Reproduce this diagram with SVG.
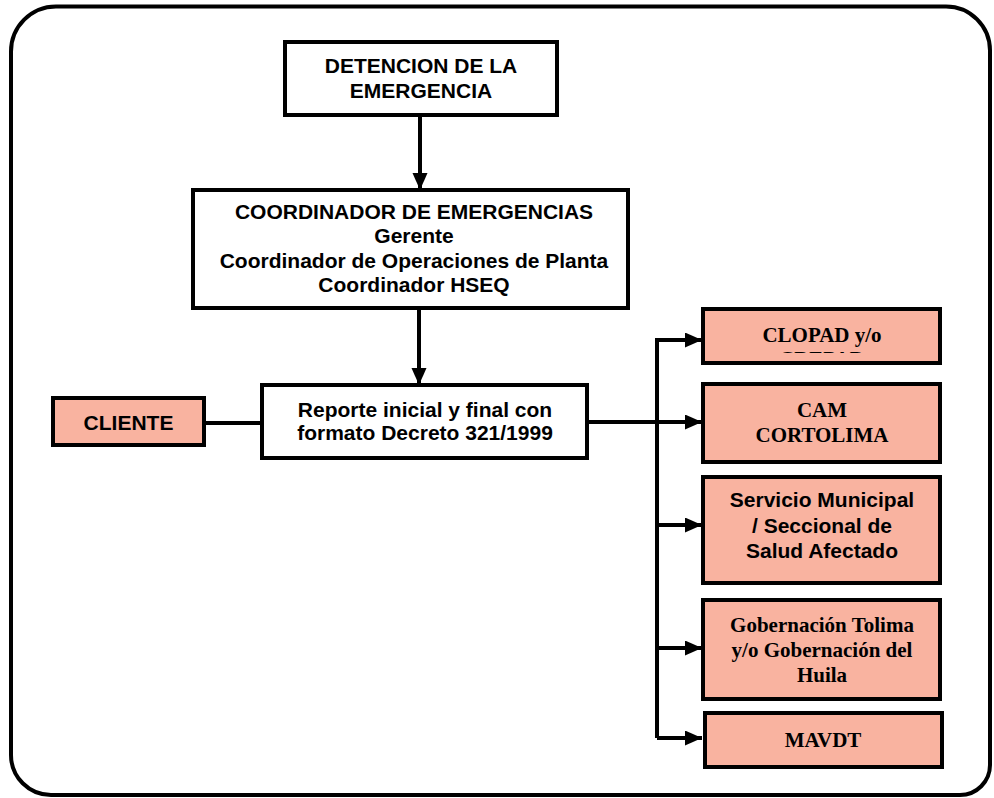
<svg xmlns="http://www.w3.org/2000/svg" width="994" height="798" viewBox="0 0 994 798">
<style>
.box{fill:#ffffff;stroke:#000;stroke-width:4}
.pink{fill:#F9B3A0;stroke:#000;stroke-width:4}
.ta{font-family:"Liberation Sans",Arial,sans-serif;font-weight:bold;font-size:21px;fill:#000;text-anchor:middle}
.tt{font-family:"Liberation Serif","Times New Roman",serif;font-weight:bold;font-size:21px;fill:#000;text-anchor:middle}
.con{fill:none;stroke:#000;stroke-width:4}
</style>
<defs>
<marker id="ah" markerUnits="userSpaceOnUse" markerWidth="18" markerHeight="16" refX="17" refY="7.5" orient="auto">
<path d="M0,0 L17,7.5 L0,15 z" fill="#000"/>
</marker>
<clipPath id="clip1"><rect x="703" y="309" width="237" height="44"/></clipPath>
</defs>
<rect width="994" height="798" fill="#fff"/>
<path d="M56,6.5 H946 A44,44 0 0 1 990,50.5 V765 A30,30 0 0 1 960,795 H51 A40,40 0 0 1 11,755 V51.5 A45,45 0 0 1 56,6.5 Z" fill="none" stroke="#000" stroke-width="4"/>
<g id="connectors">
<path class="con" d="M420,116 V190" marker-end="url(#ah)"/>
<path class="con" d="M419,308 V385" marker-end="url(#ah)"/>
<path class="con" d="M204,423 H262"/>
<path class="con" d="M587,422 H702" marker-end="url(#ah)"/>
<path class="con" d="M657,738 V340 H702" marker-end="url(#ah)"/>
<path class="con" d="M657,525 H702" marker-end="url(#ah)"/>
<path class="con" d="M657,648 H702" marker-end="url(#ah)"/>
<path class="con" d="M657,738 H702" marker-end="url(#ah)"/>
</g>
<g id="deteccion">
<rect class="box" x="285" y="42" width="272" height="73"/>
<text class="ta" x="421" y="73">DETENCION DE LA</text>
<text class="ta" x="421" y="98">EMERGENCIA</text>
</g>
<g id="coordinador">
<rect class="box" x="193" y="190" width="435" height="118"/>
<text class="ta" x="414" y="219">COORDINADOR DE EMERGENCIAS</text>
<text class="ta" x="414" y="243">Gerente</text>
<text class="ta" x="414" y="268">Coordinador de Operaciones de Planta</text>
<text class="ta" x="414" y="292">Coordinador HSEQ</text>
</g>
<g id="reporte">
<rect class="box" x="262" y="385" width="325" height="73"/>
<text class="ta" x="425" y="417">Reporte inicial y final con</text>
<text class="ta" x="425" y="440">formato Decreto 321/1999</text>
</g>
<g id="cliente">
<rect class="pink" x="53" y="398" width="151" height="47"/>
<text class="ta" x="128.5" y="430">CLIENTE</text>
</g>
<g id="clopad">
<rect class="pink" x="703" y="309" width="237" height="54"/>
<text class="tt" x="822" y="342">CLOPAD y/o</text>
<text class="tt" x="822" y="366" clip-path="url(#clip1)">CREPAD</text>
</g>
<g id="cam">
<rect class="pink" x="703" y="384" width="237" height="78"/>
<text class="tt" x="822" y="417">CAM</text>
<text class="tt" x="822" y="442">CORTOLIMA</text>
</g>
<g id="servicio">
<rect class="pink" x="703" y="477" width="237" height="106"/>
<text class="ta" x="822" y="507">Servicio Municipal</text>
<text class="ta" x="822" y="533">/ Seccional de</text>
<text class="ta" x="822" y="558">Salud Afectado</text>
</g>
<g id="gobernacion">
<rect class="pink" x="703" y="600" width="237" height="99"/>
<text class="tt" x="822" y="632">Gobernación Tolima</text>
<text class="tt" x="822" y="657">y/o Gobernación del</text>
<text class="tt" x="822" y="682">Huila</text>
</g>
<g id="mavdt">
<rect class="pink" x="705" y="713" width="237" height="54"/>
<text class="tt" x="823" y="747">MAVDT</text>
</g>
</svg>
